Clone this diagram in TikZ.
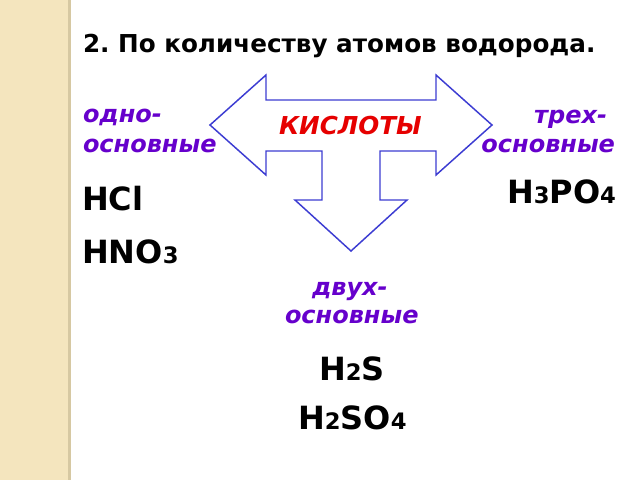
\documentclass[tikz,border=0pt]{standalone}
\usepackage{fontspec}
\setmainfont{DejaVu Sans}
\definecolor{stripefill}{RGB}{244,229,190}
\definecolor{stripeedge}{RGB}{214,200,162}
\definecolor{arrowblue}{RGB}{60,60,210}
\definecolor{labelpurple}{RGB}{102,0,204}
\definecolor{titlered}{RGB}{230,0,0}
\newcommand{\sm}[1]{{\fontsize{17}{17}\selectfont #1}}
\frenchspacing
\begin{document}
\begin{tikzpicture}[x=0.75pt,y=-0.75pt,
  txt/.style={inner sep=0pt, outer sep=0pt, anchor=base west},
  titletext/.style={txt, font=\fontsize{18.5}{22}\selectfont\bfseries},
  kind/.style={txt, text=labelpurple, font=\fontsize{18}{20}\selectfont\bfseries\itshape},
  kindr/.style={kind, anchor=base east},
  formula/.style={txt, font=\fontsize{24}{26}\selectfont\bfseries},
  center/.style={txt, text=titlered, font=\fontsize{18.5}{20}\selectfont\bfseries\itshape},
  bigarrow/.style={draw=arrowblue, line width=1.1pt, fill=white, line join=miter}]
\useasboundingbox (0,0) rectangle (640,480);
\fill[white] (0,0) rectangle (640,480);
\fill[stripefill] (0,0) rectangle (68,480);
\fill[stripeedge] (68,0) rectangle (71,480);

\node[titletext] (title) at (83,52) {2. По количеству атомов водорода.};

\draw[bigarrow] (210,125) -- (266,75) -- (266,100) -- (436,100) -- (436,75)
  -- (492,125) -- (436,175) -- (436,151) -- (380,151) -- (380,200) -- (407,200)
  -- (351,251) -- (295,200) -- (322,200) -- (322,151) -- (266,151) -- (266,175) -- cycle;

\node[center] (acids) at (279,134) {КИСЛОТЫ};

\node[kind] (one1) at (83,122) {одно-};
\node[kind] (one2) at (83,152) {основные};
\node[formula] (hcl) at (82,210) {HCl};
\node[formula] (hno3) at (82,263) {HNO\sm{3}};

\node[kindr] (three1) at (607,123) {трех-};
\node[kindr] (three2) at (615,152) {основные};
\node[formula] (h3po4) at (507,203) {H\sm{3}PO\sm{4}};

\node[kind] (two1) at (312,295) {двух-};
\node[kind] (two2) at (285,323) {основные};
\node[formula] (h2s) at (319,380) {H\sm{2}S};
\node[formula] (h2so4) at (298,429) {H\sm{2}SO\sm{4}};
\end{tikzpicture}
\end{document}
